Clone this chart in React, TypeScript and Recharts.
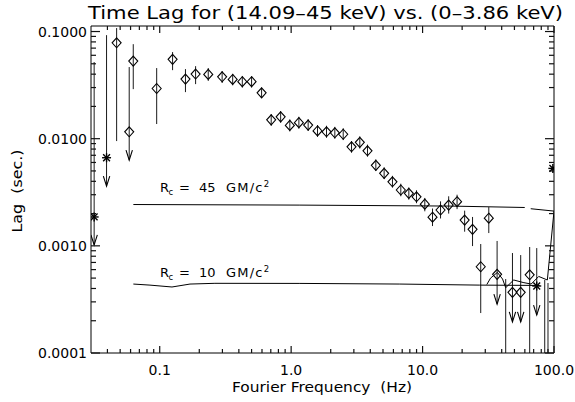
import React from "react"
import { ComposedChart, XAxis, YAxis, Line, Scatter, ReferenceLine, Customized } from "recharts"

const FONT = "'DejaVu Sans', sans-serif"
const INK = "#000"

// diamonds: measured lags (s) vs Fourier frequency (Hz)
const diamondFreq = [0.047, 0.0586, 0.0629, 0.0948, 0.1253, 0.157, 0.1875, 0.234, 0.2985, 0.359, 0.425, 0.5, 0.596, 0.705, 0.832, 0.977, 1.145, 1.347, 1.587, 1.858, 2.15, 2.49, 2.88, 3.33, 3.81, 4.41, 5.1, 5.9, 6.83, 7.86, 8.99, 10.4, 11.9, 13.7, 15.8, 18.3, 20.9, 24.0, 27.7, 31.9, 36.9, 48.3, 55.8, 65.3]
const diamondLag = [0.0785, 0.0116, 0.053, 0.0294, 0.055, 0.036, 0.0401, 0.0398, 0.0378, 0.0357, 0.034, 0.034, 0.0268, 0.015, 0.016, 0.0133, 0.0141, 0.0134, 0.0118, 0.0116, 0.01135, 0.011, 0.0084, 0.00924, 0.00771, 0.00564, 0.00475, 0.00396, 0.00332, 0.00309, 0.00287, 0.00245, 0.00185, 0.00216, 0.0024, 0.00258, 0.00174, 0.001425, 0.000638, 0.00181, 0.000542, 0.000368, 0.000368, 0.000537]
const diamondLo = [0.0095, 0.0063, 0.029, 0.0137, 0.0436, 0.0272, 0.0323, 0.0346, 0.0331, 0.0315, 0.03, 0.03, 0.024, 0.0132, 0.0141, 0.0117, 0.0124, 0.0118, 0.0104, 0.0102, 0.01, 0.0097, 0.0074, 0.0081, 0.0068, 0.005, 0.0042, 0.0035, 0.0029, 0.0027, 0.0025, 0.0021, 0.00153, 0.0018, 0.002, 0.0022, 0.001355, 0.000995, 0.000236, 0.001316, 0.000286, 0.000195, 0.000195, 0.0001]
const diamondHi = [0.1077, 0.0466, 0.0762, 0.0456, 0.0643, 0.0446, 0.0475, 0.0456, 0.0428, 0.0403, 0.0385, 0.0383, 0.03, 0.017, 0.0181, 0.0151, 0.016, 0.0152, 0.0134, 0.0132, 0.0129, 0.0125, 0.0095, 0.0105, 0.0088, 0.0064, 0.0054, 0.0045, 0.0038, 0.0035, 0.0033, 0.0028, 0.00223, 0.0026, 0.0029, 0.003, 0.00213, 0.00186, 0.00104, 0.0023, 0.00111, 0.000857, 0.00082, 0.000975]
// points drawn with a down arrow (upper limits)
const diamondLimitFreq = [0.0586, 36.9, 48.3, 55.8]

// asterisks: negative lags (absolute value shown)
const starFreq = [0.0317, 0.0394, 73.9, 98]
const starLag = [0.00186, 0.00664, 0.000422, 0.00528]
const starLo = [0.00102, 0.00361, 0.000226, 0.0051]
const starHi = [0.0519, 0.0925, 0.000953, 0.0055]
const starLimitFreq = [0.0317, 0.0394, 73.9]

// error bars with no plottable point (reach the bottom of the plot)
const bareFreq = [42.9, 85, 90]
const bareHi = [0.00049, 0.00048, 0.00045]

// model curves
const rc45Freq = [0.063, 1.165, 16.1, 59.9, 62, 66.5, 100, 89.0, 76.5, 67, 58.2, 49.4, 42.9, 40.6, 37.1, 32.9, 30.8]
const rc45Lag = [0.00243, 0.0024, 0.00235, 0.00228, null, 0.00222, 0.00211, 0.00048, 0.000518, 0.00044, 0.000455, 0.00048, 0.000407, 0.00049, 0.000565, 0.0005, 0.000435]
const rc10Freq = [0.063, 0.0843, 0.124, 0.17, 0.263, 1.165, 6.71, 27.2, 77.8]
const rc10Lag = [0.00044, 0.00043, 0.000413, 0.00044, 0.000447, 0.000446, 0.00044, 0.00043, 0.000427]

const xMajorTicks = [0.1, 1, 10, 100]
const xTickLabels = ["0.1", "1.0", "10.0", "100.0"]
const xMinorTicks = [0.04, 0.05, 0.06, 0.07, 0.08, 0.09, 0.2, 0.3, 0.4, 0.5, 0.6, 0.7, 0.8, 0.9, 2, 3, 4, 5, 6, 7, 8, 9, 20, 30, 40, 50, 60, 70, 80, 90]
const yMajorTicks = [0.0001, 0.001, 0.01, 0.1]
const yTickLabels = ["0.0001", "0.0010", "0.0100", "0.1000"]
const yMinorTicks = [0.0002, 0.0003, 0.0004, 0.0005, 0.0006, 0.0007, 0.0008, 0.0009, 0.002, 0.003, 0.004, 0.005, 0.006, 0.007, 0.008, 0.009, 0.02, 0.03, 0.04, 0.05, 0.06, 0.07, 0.08, 0.09]

const X_DOMAIN: [number, number] = [0.03, 100]
const Y_DOMAIN: [number, number] = [0.0001, 0.1126]
const Y_FLOOR = Y_DOMAIN[0]

const xTicks = [...xMajorTicks, ...xMinorTicks].sort((a, b) => a - b)
const yTicks = [...yMajorTicks, ...yMinorTicks].sort((a, b) => a - b)

const diamonds = diamondFreq.map((f, i) => ({ f, v: diamondLag[i], lo: diamondLo[i], hi: diamondHi[i] }))
const stars = starFreq.map((f, i) => ({ f, v: starLag[i], lo: starLo[i], hi: starHi[i] }))
const bars = [
  ...diamonds,
  ...stars,
  ...bareFreq.map((f, i) => ({ f, lo: Y_FLOOR, hi: bareHi[i] })),
]
const arrowTips = [
  ...diamonds.filter((d) => diamondLimitFreq.includes(d.f)),
  ...stars.filter((d) => starLimitFreq.includes(d.f)),
].map((d) => ({ f: d.f, v: d.lo }))
const rc45 = rc45Freq.map((f, i) => ({ f, v: rc45Lag[i] }))
const rc10 = rc10Freq.map((f, i) => ({ f, v: rc10Lag[i] }))

// IDL style ticks: all pointing into the plot box
function makeTick(side: "bottom" | "top" | "left" | "right") {
  return (props: any) => {
    const { x, y, payload } = props
    const v = payload.value
    if (side === "bottom" || side === "top") {
      const i = xMajorTicks.indexOf(v)
      const len = i >= 0 ? 7 : 4
      const dir = side === "bottom" ? -1 : 1
      return (
        <g>
          <line x1={x} x2={x} y1={y} y2={y + dir * len} stroke="#111" strokeWidth={1.2} />
          {side === "bottom" && i >= 0 && (
            <text x={x} y={y + 22} textAnchor="middle" fontSize={14} fontFamily={FONT} fill={INK}>
              {xTickLabels[i]}
            </text>
          )}
        </g>
      )
    }
    const i = yMajorTicks.indexOf(v)
    const len = i >= 0 ? 9 : 5
    const dir = side === "left" ? 1 : -1
    return (
      <g>
        <line x1={x} x2={x + dir * len} y1={y} y2={y} stroke="#111" strokeWidth={1.2} />
        {side === "left" && i >= 0 && (
          <text x={x - 4} y={y + 5} textAnchor="end" fontSize={14} fontFamily={FONT} fill={INK}>
            {yTickLabels[i]}
          </text>
        )}
      </g>
    )
  }
}

const DiamondShape = (props: any) => {
  const { cx, cy } = props
  return (
    <polygon
      points={`${cx},${cy - 5} ${cx + 4.5},${cy} ${cx},${cy + 5} ${cx - 4.5},${cy}`}
      fill="none"
      stroke={INK}
      strokeWidth={1.1}
    />
  )
}

const StarShape = (props: any) => {
  const { cx, cy } = props
  const r = 4.5
  const d = 3.4
  return (
    <g stroke={INK} strokeWidth={1.4}>
      <line x1={cx - r} x2={cx + r} y1={cy} y2={cy} />
      <line x1={cx} x2={cx} y1={cy - r} y2={cy + r} />
      <line x1={cx - d} x2={cx + d} y1={cy - d} y2={cy + d} />
      <line x1={cx - d} x2={cx + d} y1={cy + d} y2={cy - d} />
    </g>
  )
}

const ArrowHead = (props: any) => {
  const { cx, cy } = props
  return <polyline points={`${cx - 3.2},${cy - 10} ${cx},${cy} ${cx + 3.2},${cy - 10}`} fill="none" stroke={INK} strokeWidth={1.1} />
}

const NoShape = () => <g />

const RcLabel = ({ x, y, value }: { x: number; y: number; value: string }) => (
  <text y={y} fontSize={13} fontFamily={FONT} fill={INK}>
    <tspan x={x}>R</tspan>
    <tspan x={x + 8.5} dy={3} fontSize={8.5}>c</tspan>
    <tspan x={x + 19} dy={-3}>=</tspan>
    <tspan x={x + 39}>{value}</tspan>
    <tspan x={x + 66} letterSpacing={1.2}>GM/c</tspan>
    <tspan dx={0} dy={-5} fontSize={8.5}>2</tspan>
  </text>
)

const Labels = () => (
  <g>
    <text x={325.5} y={19} textAnchor="middle" fontSize={18} fontFamily={FONT} fill={INK} textLength={475} lengthAdjust="spacingAndGlyphs">
      Time Lag for (14.09–45 keV) vs. (0–3.86 keV)
    </text>
    <text x={322} y={392} textAnchor="middle" fontSize={14} fontFamily={FONT} fill={INK} textLength={180} lengthAdjust="spacingAndGlyphs" style={{ whiteSpace: "pre" }}>
      Fourier Frequency  (Hz)
    </text>
    <text x={22} y={191} textAnchor="middle" fontSize={14} fontFamily={FONT} fill={INK} transform="rotate(-90, 22, 191)" textLength={83} lengthAdjust="spacingAndGlyphs" style={{ whiteSpace: "pre" }}>
      Lag  (sec.)
    </text>
    <RcLabel x={160} y={192} value="45" />
    <RcLabel x={160} y={277} value="10" />
  </g>
)

const axisLineStyle = { stroke: INK }

export default function App() {
  return (
    <div style={{ position: "absolute", left: 0, top: 0, width: 575, height: 402, background: "#fff" }}>
      <ComposedChart width={575} height={402} margin={{ top: 25, right: 20, bottom: 0, left: 0 }}>
        <XAxis
          xAxisId={0}
          dataKey="f"
          type="number"
          scale="log"
          domain={X_DOMAIN}
          allowDataOverflow
          ticks={xTicks}
          interval={0}
          tickSize={0}
          tickMargin={0}
          tick={makeTick("bottom")}
          height={49}
          axisLine={axisLineStyle}
        />
        <XAxis
          xAxisId="top"
          orientation="top"
          dataKey="f"
          type="number"
          scale="log"
          domain={X_DOMAIN}
          allowDataOverflow
          ticks={xTicks}
          interval={0}
          tickSize={0}
          tickMargin={0}
          tick={makeTick("top")}
          height={1}
          axisLine={axisLineStyle}
        />
        <YAxis
          yAxisId={0}
          type="number"
          scale="log"
          domain={Y_DOMAIN}
          allowDataOverflow
          ticks={yTicks}
          interval={0}
          tickSize={0}
          tickMargin={0}
          tick={makeTick("left")}
          width={91}
          axisLine={axisLineStyle}
        />
        <YAxis
          yAxisId="right"
          orientation="right"
          type="number"
          scale="log"
          domain={Y_DOMAIN}
          allowDataOverflow
          ticks={yTicks}
          interval={0}
          tickSize={0}
          tickMargin={0}
          tick={makeTick("right")}
          width={1}
          axisLine={axisLineStyle}
        />

        {bars.map((b, i) => (
          <ReferenceLine
            key={`bar-${i}`}
            segment={[{ x: b.f, y: b.lo }, { x: b.f, y: b.hi }]}
            stroke="#1a1a1a"
            strokeWidth={1}
            ifOverflow="visible"
          />
        ))}

        <Line data={rc45} dataKey="v" type="linear" stroke={INK} strokeWidth={1} dot={false} connectNulls={false} isAnimationActive={false} />
        <Line data={rc10} dataKey="v" type="linear" stroke={INK} strokeWidth={1} dot={false} isAnimationActive={false} />

        <Scatter data={diamonds} dataKey="v" shape={DiamondShape} isAnimationActive={false} />
        <Scatter data={stars} dataKey="v" shape={StarShape} isAnimationActive={false} />
        <Scatter data={arrowTips} dataKey="v" shape={ArrowHead} isAnimationActive={false} />
        {/* invisible copy so the mirrored top/right axes get drawn */}
        <Scatter data={diamonds} dataKey="v" xAxisId="top" yAxisId="right" shape={NoShape} isAnimationActive={false} />

        <Customized component={Labels} />
      </ComposedChart>
    </div>
  )
}
